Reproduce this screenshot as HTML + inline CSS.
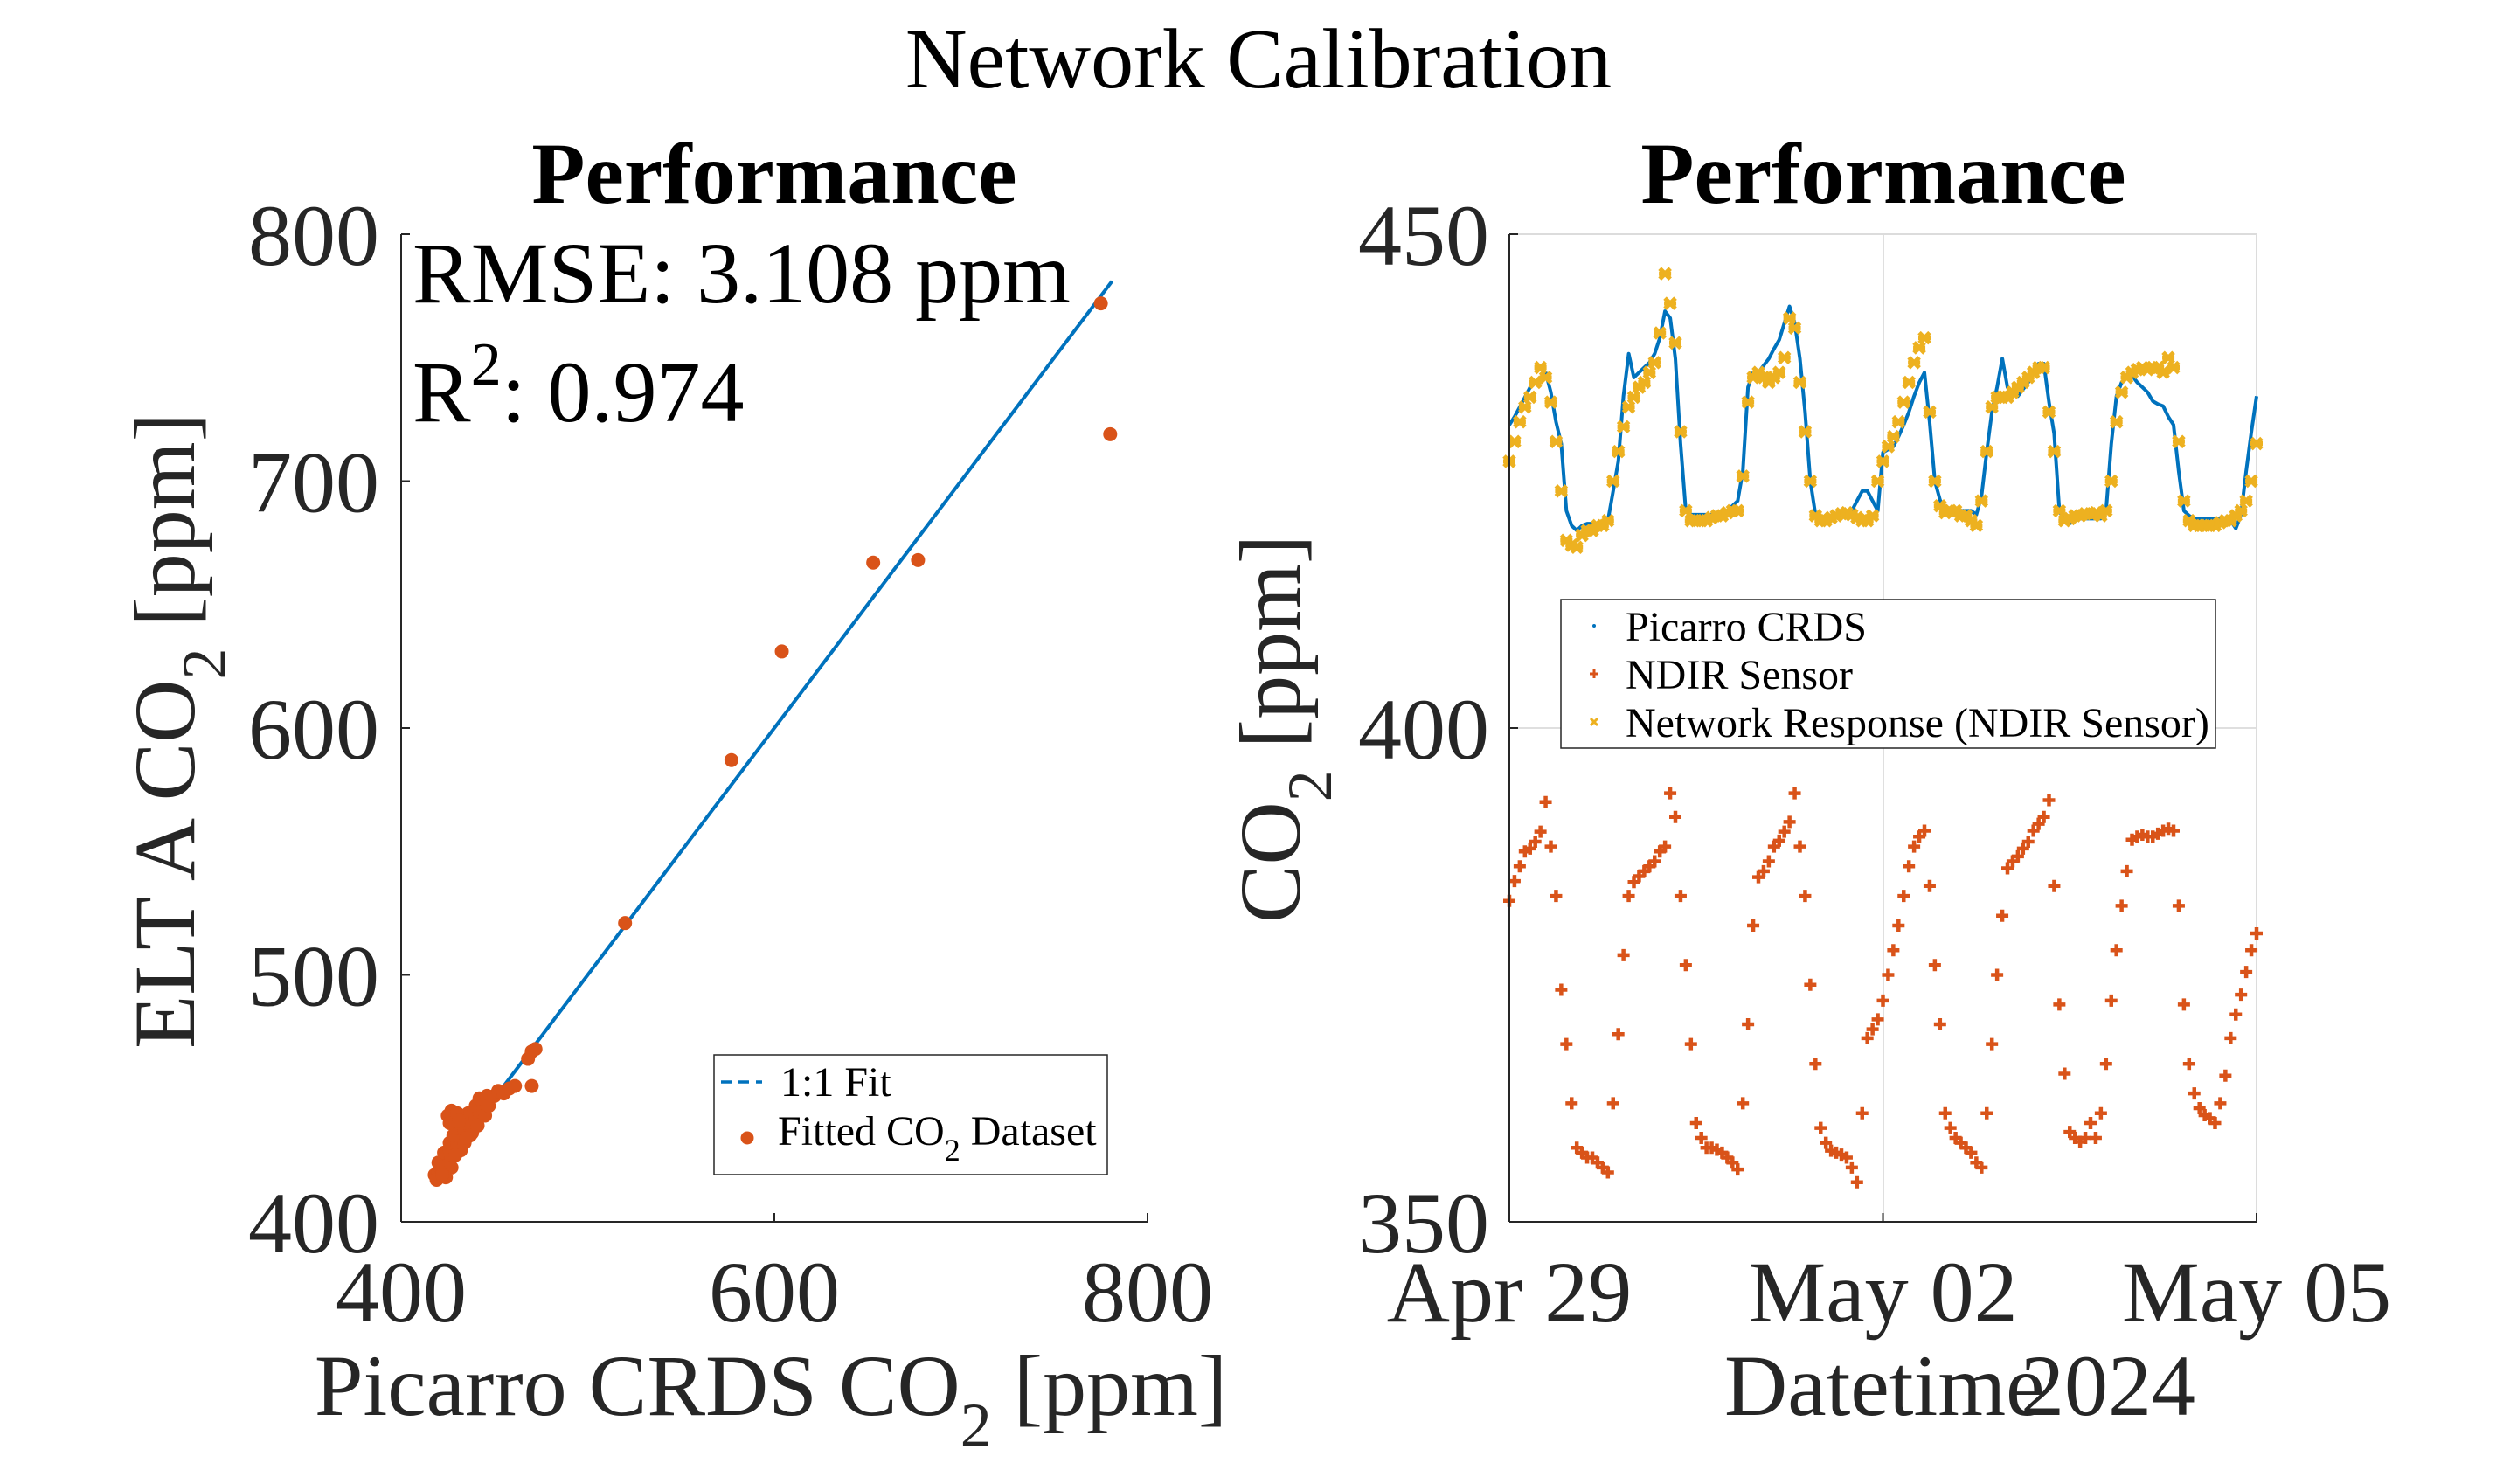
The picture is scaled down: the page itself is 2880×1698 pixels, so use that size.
<!DOCTYPE html>
<html><head><meta charset="utf-8"><style>
html,body{margin:0;padding:0;background:#fff;}
svg{display:block;font-family:"Liberation Serif",serif;}
</style></head><body>
<svg id="fig" width="2880" height="1698" viewBox="0 0 2880 1698" xmlns="http://www.w3.org/2000/svg">
<rect x="0" y="0" width="2880" height="1698" fill="#fff"/>
<text x="1440" y="100" font-size="98" text-anchor="middle" fill="#000">Network Calibration</text>

<!-- LEFT -->
<g id="left">
<text x="886" y="232" font-size="100" font-weight="bold" text-anchor="middle" fill="#000">Performance</text>
<g id="lmarks"></g>
<line x1="459" y1="268" x2="459" y2="1398" stroke="#262626" stroke-width="2"/>
<line x1="459" y1="1398" x2="1313" y2="1398" stroke="#262626" stroke-width="2"/>
<g id="lticks"></g>
<text x="472" y="346" font-size="100" fill="#000">RMSE: 3.108 ppm</text>
<text x="472" y="482" font-size="100" fill="#000">R<tspan dy="-42" font-size="70">2</tspan><tspan dy="42">: 0.974</tspan></text>
<text transform="translate(222,836) rotate(-90)" font-size="100" text-anchor="middle" fill="#262626">ELT A CO<tspan dy="36" font-size="72">2</tspan><tspan dy="-36"> [ppm]</tspan></text>
<text x="882" y="1619" font-size="100" text-anchor="middle" fill="#262626">Picarro CRDS CO<tspan dy="36" font-size="72">2</tspan><tspan dy="-36"> [ppm]</tspan></text>
<g>
<rect x="817" y="1207" width="450" height="137" fill="#fff" stroke="#262626" stroke-width="1.5"/>
<line x1="825" y1="1238" x2="872" y2="1238" stroke="#0072BD" stroke-width="3.5" stroke-dasharray="12,8"/>
<text x="893" y="1254" font-size="48" fill="#000">1:1 Fit</text>
<circle cx="855" cy="1302" r="7.5" fill="#D95319"/>
<text x="890" y="1310" font-size="48" fill="#000">Fitted CO<tspan dy="18" font-size="36">2</tspan><tspan dy="-18"> Dataset</tspan></text>
</g>
</g>

<!-- RIGHT -->
<g id="right">
<text x="2155" y="232" font-size="100" font-weight="bold" text-anchor="middle" fill="#000">Performance</text>
<line x1="2155" y1="268" x2="2155" y2="1398" stroke="#dfdfdf" stroke-width="2"/>
<line x1="1727" y1="833" x2="2582" y2="833" stroke="#dfdfdf" stroke-width="2"/>
<line x1="1727" y1="268" x2="2582" y2="268" stroke="#dcdcdc" stroke-width="2"/>
<line x1="2582" y1="268" x2="2582" y2="1398" stroke="#dcdcdc" stroke-width="2"/>
<g id="rmarks"></g>
<line x1="1727" y1="268" x2="1727" y2="1398" stroke="#262626" stroke-width="2"/>
<line x1="1727" y1="1398" x2="2582" y2="1398" stroke="#262626" stroke-width="2"/>
<g id="rticks"></g>
<text transform="translate(1487,834) rotate(-90)" font-size="100" text-anchor="middle" fill="#262626">CO<tspan dy="36" font-size="72">2</tspan><tspan dy="-36"> [ppm]</tspan></text>
<text x="1973" y="1619" font-size="100" fill="#262626">Datetime</text>
<text x="2312" y="1619" font-size="100" fill="#262626">2024</text>
<g>
<rect x="1786" y="686" width="749" height="170" fill="#fff" stroke="#262626" stroke-width="1.5"/>
<circle cx="1824" cy="716" r="2" fill="#0072BD"/>
<text x="1860" y="733" font-size="48" fill="#000">Picarro CRDS</text>
<path d="M1819 771h10M1824 766v10" stroke="#D95319" stroke-width="3"/>
<text x="1860" y="788" font-size="48" fill="#000">NDIR Sensor</text>
<path d="M1820 822l8 8M1828 822l-8 8" stroke="#EDB120" stroke-width="3"/>
<text x="1860" y="843" font-size="48" fill="#000">Network Response (NDIR Sensor)</text>
</g>
</g>
</svg>
<script>
var NS='http://www.w3.org/2000/svg';
// ---- scatter data ----
var scatterX=[418,419,420,421,420,422,423,424,425,423,426,427,428,426,429,430,428,431,432,430,433,434,435,433,436,437,438,436,439,440,441,442,440,443,444,445,442,446,438,432,427,424,429,434,437,441,445,447,450,452,455,458,461,470,468,470,472,520,577,604,653,677,775,780,425,427,426,430,419,422,435,431];
var scatterY=[419,418,420,422,424,421,425,423,427,428,429,426,430,432,433,431,435,436,434,438,439,437,440,442,441,443,440,444,445,442,446,444,447,448,446,449,450,451,436,429,422,418,427,432,435,439,443,447,451,453,452,454,455,455,466,469,470,521,587,631,667,668,772,719,443,445,440,444,417,419,434,441];
var fitX=[418,781];
var fitY=[418,781];
var scatterXTicks=[400,600,800];
var scatterYTicks=[400,500,600,700,800];
// ---- time series data (hourly from Apr 29 00:00) ----
var picarro=[430.7,431.5,432.5,433.5,434.5,435,435.5,436,434,431,428.8,422,420.5,420,420.5,420.7,420.7,420.7,420.8,421,424,427,433.6,437.9,
435.5,436,436.5,437,437.9,439.5,442.2,441.5,437.4,428.8,422,421.6,421.6,421.6,421.6,421.6,421.7,421.8,422,422.5,423,426,434.5,436,
436,436.7,437.4,438.4,439.3,441,442.7,441,437.4,432,425,421.6,420.8,420.7,421,421.3,421.6,421.8,422,423,424,424,423,422,
427.9,428.2,428.5,429.5,430.7,432,433.6,435,436,431,425,423.1,422,422,422,422,422,422,421.6,423.5,428,432,434.5,437.4,
434.5,434,433.6,434.3,435,436,436.9,436.9,433,429.8,422,421,420.7,421,421.2,421.2,421.2,421.2,421.2,422,428.8,433.6,435,435.5,
435.7,435,434.5,434,433.1,432.8,432.6,431.5,430.7,426,422,421.5,421.2,421.2,421.2,421.2,421.2,421.2,421.2,421,420.2,421.6,426,430,433.6];
var ndir=[382.5,384.5,386,387.5,387.8,388.5,389.5,392.5,388,383,373.5,368,362,357.5,357,356.5,356.5,356,355.5,355,362,369,377,383,
384.4,385,385.5,386,386.5,387.5,388,393.4,391,383,376,368,360,358.5,357.5,357.5,357.3,357,356.5,356,355.3,362,370,380,
384.9,385.5,386.5,388,388.6,389.5,390.5,393.4,388,383,374,366,359.5,358,357.2,357,356.8,356.5,355.5,354,361,368.6,369.5,370.5,
372.4,375,377.5,380,383,386,388,389,389.6,384,376,370,361,359.5,358.5,358,357.5,357,356,355.5,361,368,375,381,
385.8,386.5,387,387.8,388.5,389.6,390.3,391,392.7,384,372,365,359.1,358.5,358.1,358.5,360,358.5,361,366,372.4,377.5,382,385.5,
388.7,389,389.2,389,389,389.3,389.6,389.8,389.6,382,372,366,363,361.5,360.8,360.5,360,362,364.8,368.6,371,373,375.3,377.5,379.2];
var network=[427,429,431,432.5,433.5,435,436.5,435.5,433,429,424,419,418.5,418.3,419.5,420,420,420.5,420.5,421,425,428,430.5,432.5,
433.5,434.5,435,436,437,440,446,443,439,430,422,421,421,421,421,421.3,421.5,421.5,421.8,422,422,425.5,433,435.5,
436,435.5,435,435.5,436,437.5,441.5,440.5,435,430,425,421.5,421,421,421.3,421.5,421.7,421.8,421.6,421.3,421,421,421.5,425,
427,428.5,429.5,431,433,435,437,438.5,439.5,432,425,422.5,421.8,422,422,421.5,421.5,421,420.5,423,428,432.5,433.5,433.5,
433.5,434,434.5,435,435.5,436,436.5,436.5,432,428,422,421,421.2,421.5,421.5,421.7,421.7,421.8,421.5,422,425,431,434,435.5,
436,436.3,436.5,436.3,436.5,436.5,436,437.5,436.5,429,423,421,420.5,420.5,420.5,420.5,420.5,420.8,421,421,421.5,422,423,425,428.8];
var timeTickHours=[0,72,144];
var timeTickLabels=['Apr 29','May 02','May 05'];
var tsYTicks=[350,400,450];

// axis functions
function sx(v){return 459+(v-400)*(1313-459)/400;}
function sy(v){return 1398-(v-400)*(1398-268)/400;}
function tx(h){return 1727+h*(2582-1727)/144;}
function ty(v){return 1398-(v-350)*(1398-268)/100;}

var lm=document.getElementById('lmarks');
var fit=document.createElementNS(NS,'line');
fit.setAttribute('x1',sx(fitX[0]));fit.setAttribute('y1',sy(fitY[0]));
fit.setAttribute('x2',sx(fitX[1]));fit.setAttribute('y2',sy(fitY[1]));
fit.setAttribute('stroke','#0072BD');fit.setAttribute('stroke-width','4');


lm.appendChild(fit);
for(var i=0;i<scatterX.length;i++){
  var c=document.createElementNS(NS,'circle');
  c.setAttribute('cx',sx(scatterX[i]));c.setAttribute('cy',sy(scatterY[i]));
  c.setAttribute('r','8');c.setAttribute('fill','#D95319');
  
  
  lm.appendChild(c);
}
var lt=document.getElementById('lticks');
scatterXTicks.forEach(function(v){
  var t=document.createElementNS(NS,'line');
  t.setAttribute('x1',sx(v));t.setAttribute('x2',sx(v));t.setAttribute('y1',1398);t.setAttribute('y2',1388);
  t.setAttribute('stroke','#262626');t.setAttribute('stroke-width','2');
  
  
  lt.appendChild(t);
  var l=document.createElementNS(NS,'text');
  l.setAttribute('x',sx(v));l.setAttribute('y',1512);l.setAttribute('font-size','100');
  l.setAttribute('text-anchor','middle');l.setAttribute('fill','#262626');
  l.textContent=v;
  
  
  lt.appendChild(l);
});
scatterYTicks.forEach(function(v){
  var t=document.createElementNS(NS,'line');
  t.setAttribute('x1',459);t.setAttribute('x2',469);t.setAttribute('y1',sy(v));t.setAttribute('y2',sy(v));
  t.setAttribute('stroke','#262626');t.setAttribute('stroke-width','2');
  
  
  lt.appendChild(t);
  var l=document.createElementNS(NS,'text');
  l.setAttribute('x',434);l.setAttribute('y',sy(v)+35);l.setAttribute('font-size','100');
  l.setAttribute('text-anchor','end');l.setAttribute('fill','#262626');
  l.textContent=v;
  
  
  lt.appendChild(l);
});

// time series
var rm=document.getElementById('rmarks');
var d='';
for(var h=0;h<picarro.length;h++){d+=(h?'L':'M')+tx(h).toFixed(1)+' '+ty(picarro[h]).toFixed(1);}
var pl=document.createElementNS(NS,'path');
pl.setAttribute('d',d);pl.setAttribute('fill','none');pl.setAttribute('stroke','#0072BD');
pl.setAttribute('stroke-width','4');pl.setAttribute('stroke-linejoin','round');


rm.appendChild(pl);
for(var h=0;h<ndir.length;h++){
  var x=tx(h),y=ty(ndir[h]);
  var m=document.createElementNS(NS,'path');
  m.setAttribute('d','M'+(x-7)+' '+y+'h14M'+x+' '+(y-7)+'v14');
  m.setAttribute('stroke','#D95319');m.setAttribute('stroke-width','4.5');
  
  
  rm.appendChild(m);
}
for(var h=0;h<network.length;h++){
  var x=tx(h),y=ty(network[h]);
  var m=document.createElementNS(NS,'path');
  m.setAttribute('d','M'+(x-6)+' '+(y-6)+'l12 12M'+(x+6)+' '+(y-6)+'l-12 12M'+(x-7)+' '+y+'h14');
  m.setAttribute('stroke','#EDB120');m.setAttribute('stroke-width','5');
  
  
  rm.appendChild(m);
}
var rt=document.getElementById('rticks');
timeTickHours.forEach(function(hh,i){
  var t=document.createElementNS(NS,'line');
  t.setAttribute('x1',tx(hh));t.setAttribute('x2',tx(hh));t.setAttribute('y1',1398);t.setAttribute('y2',1388);
  t.setAttribute('stroke','#262626');t.setAttribute('stroke-width','2');
  
  
  rt.appendChild(t);
  var l=document.createElementNS(NS,'text');
  l.setAttribute('x',tx(hh));l.setAttribute('y',1512);l.setAttribute('font-size','100');
  l.setAttribute('text-anchor','middle');l.setAttribute('fill','#262626');
  l.textContent=timeTickLabels[i];
  
  
  rt.appendChild(l);
});
tsYTicks.forEach(function(v){
  var t=document.createElementNS(NS,'line');
  t.setAttribute('x1',1727);t.setAttribute('x2',1737);t.setAttribute('y1',ty(v));t.setAttribute('y2',ty(v));
  t.setAttribute('stroke','#262626');t.setAttribute('stroke-width','2');
  
  
  rt.appendChild(t);
  var l=document.createElementNS(NS,'text');
  l.setAttribute('x',1704);l.setAttribute('y',ty(v)+35);l.setAttribute('font-size','100');
  l.setAttribute('text-anchor','end');l.setAttribute('fill','#262626');
  l.textContent=v;
  
  
  rt.appendChild(l);
});
</script>
</body></html>
